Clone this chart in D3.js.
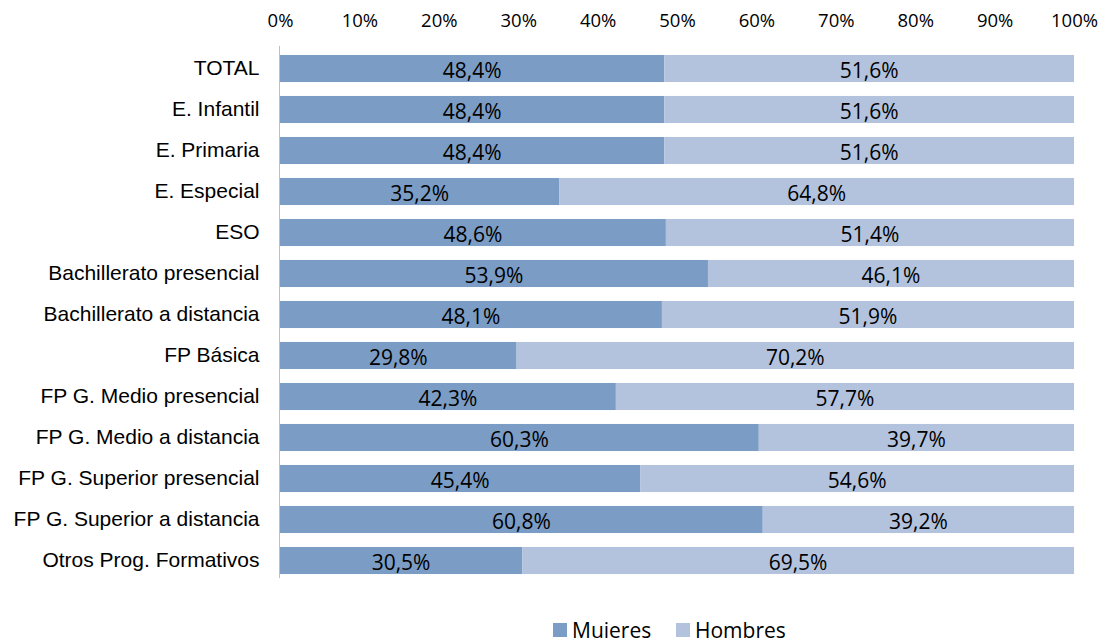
<!DOCTYPE html>
<html><head><meta charset="utf-8">
<script src="https://cdn.jsdelivr.net/npm/d3@7"></script>
<style>body{margin:0;background:#fff}</style>
</head><body><svg id="c" width="1099" height="638"></svg>
<script>
const categories = ["TOTAL","E. Infantil","E. Primaria","E. Especial","ESO","Bachillerato presencial","Bachillerato a distancia","FP Básica ","FP G. Medio presencial","FP G. Medio a distancia","FP G. Superior presencial","FP G. Superior a distancia","Otros Prog. Formativos"];
const mujeres = [48.4,48.4,48.4,35.2,48.6,53.9,48.1,29.8,42.3,60.3,45.4,60.8,30.5];
const hombres = [51.6,51.6,51.6,64.8,51.4,46.1,51.9,70.2,57.7,39.7,54.6,39.2,69.5];
const tickValues = [0,10,20,30,40,50,60,70,80,90,100];
const seriesNames = ["Mujeres","Hombres"];
const colors = ["#7b9cc4","#b3c3de"];

const svg = d3.select("#c");
const x = d3.scaleLinear().domain([0,100]).range([280,1074]);
const y = d3.scaleBand().domain(categories).range([48,581]).paddingInner(0.34).paddingOuter(0.17);

const fmt = v => v.toFixed(1).replace(".", ",") + "%";

// top axis
const ax = svg.append("g").attr("transform","translate(0,27)")
  .call(d3.axisTop(x).tickValues(tickValues).tickFormat(d=>d+"%").tickSize(0).tickPadding(0));
ax.select(".domain").remove();
ax.selectAll("text").attr("dy",0).attr("font-family","Open Sans").attr("font-size",18.5).attr("fill","#000");

const data = categories.map((c,i)=>({c, m:mujeres[i], h:hombres[i]}));

const rows = svg.append("g").selectAll("g").data(data).join("g");
rows.append("rect").attr("x",x(0)).attr("y",d=>y(d.c)).attr("width",d=>x(d.m)-x(0)).attr("height",y.bandwidth()).attr("fill",colors[0]);
rows.append("rect").attr("x",d=>x(d.m)).attr("y",d=>y(d.c)).attr("width",d=>x(d.m+d.h)-x(d.m)).attr("height",y.bandwidth()).attr("fill",colors[1]);
rows.append("text").attr("x",d=>(x(0)+x(d.m))/2).attr("y",d=>y(d.c)+y.bandwidth()/2+9)
  .attr("text-anchor","middle").attr("font-family","Open Sans").attr("font-size",21).text(d=>fmt(d.m));
rows.append("text").attr("x",d=>(x(d.m)+x(d.m+d.h))/2).attr("y",d=>y(d.c)+y.bandwidth()/2+9)
  .attr("text-anchor","middle").attr("font-family","Open Sans").attr("font-size",21).text(d=>fmt(d.h));

// left axis
const la = svg.append("g").attr("transform","translate(279.5,0)")
  .call(d3.axisLeft(y).tickSize(0).tickPadding(20));
la.select(".domain").attr("stroke","#bfbfbf").attr("d","M0,46V578");
la.selectAll("text").attr("font-family","Liberation Sans").attr("font-size",21).attr("fill","#000");

// legend
const lg = svg.append("g");
const lx = [553, 676];
seriesNames.forEach((n,i)=>{
  lg.append("rect").attr("x",lx[i]).attr("y",623).attr("width",14).attr("height",14).attr("fill",colors[i]);
  lg.append("text").attr("x",lx[i]+19).attr("y",638).attr("font-family","Open Sans").attr("font-size",21).text(n);
});
</script></body></html>
